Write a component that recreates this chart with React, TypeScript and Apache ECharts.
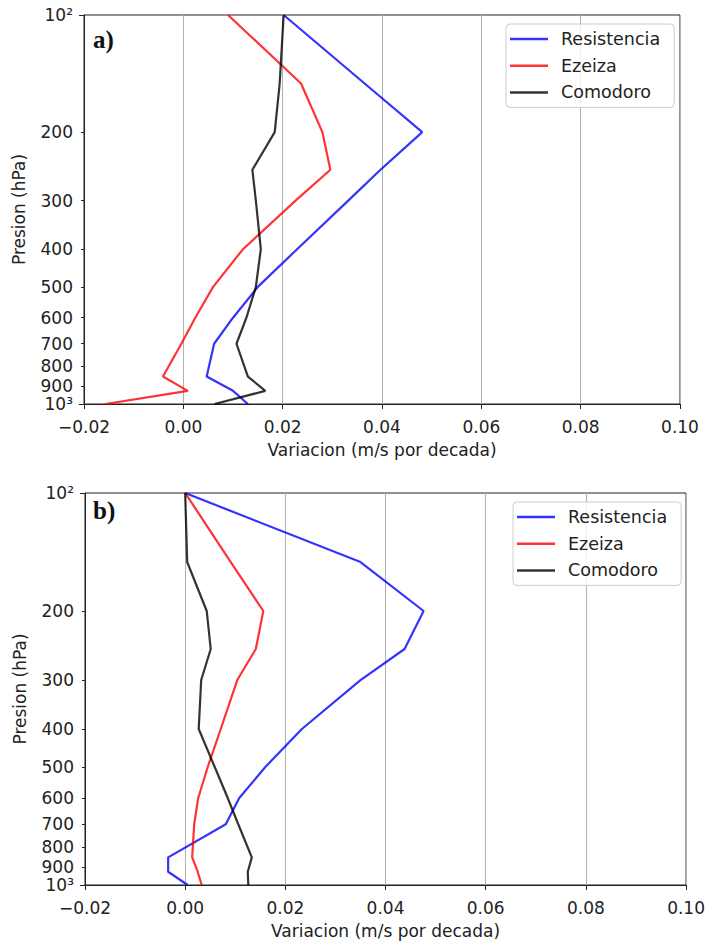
import React, { useEffect, useRef } from "react";
import * as echarts from "echarts";

// ---- Data ----
const pressureLevels = [100, 150, 200, 250, 300, 400, 500, 600, 700, 850, 925, 1000];
const stationNames = ["Resistencia", "Ezeiza", "Comodoro"];

// panel a)
const resistenciaA = [0.0202, 0.0365, 0.0481, 0.0397, 0.0332, 0.0229, 0.015, 0.01, 0.0062, 0.0047, 0.01, 0.013];
const ezeizaA = [0.009, 0.0237, 0.028, 0.0296, 0.0226, 0.012, 0.006, 0.0024, -0.0004, -0.0041, 0.0009, -0.0157];
const comodoroA = [0.0202, 0.0194, 0.0184, 0.0139, 0.0146, 0.0156, 0.0146, 0.0127, 0.0107, 0.013, 0.0165, 0.0063];

// panel b)
const resistenciaB = [0.0, 0.035, 0.0476, 0.0438, 0.035, 0.0233, 0.016, 0.0108, 0.0081, -0.0034, -0.0034, 0.0005];
const ezeizaB = [0.0, 0.0091, 0.0156, 0.0141, 0.0104, 0.0071, 0.0045, 0.0026, 0.0018, 0.0014, 0.0025, 0.0033];
const comodoroB = [0.0, 0.0004, 0.0043, 0.0051, 0.0032, 0.0027, 0.0059, 0.0085, 0.0106, 0.0133, 0.0125, 0.0126];

const pressureTickLabels = [100, 200, 300, 400, 500, 600, 700, 800, 900, 1000];
const majorPressureTicks = [100, 1000];
const minorPressureTicks = [200, 300, 400, 500, 600, 700, 800, 900];
const xMin = -0.02;
const xMax = 0.1;
const xStep = 0.02;
const panelLabels = ["a)", "b)"];
const xAxisTitle = "Variacion (m/s por decada)";
const yAxisTitle = "Presion (hPa)";

const colors = ["rgba(0,0,255,0.8)", "rgba(255,0,0,0.8)", "rgba(0,0,0,0.8)"];
const FONT = "DejaVu Sans";
const INK = "#222";

const panels = [
  { series: [resistenciaA, ezeizaA, comodoroA], grid: { left: 84, top: 15, width: 596, height: 389 }, legend: { left: 506, top: 24 }, label: { x: 93, y: 27 } },
  { series: [resistenciaB, ezeizaB, comodoroB], grid: { left: 85, top: 493, width: 605, height: 392 }, legend: { left: 513, top: 502 }, label: { x: 93, y: 498 } },
];

function fmtX(v: number) {
  const s = (Math.round(v * 100) / 100).toFixed(2);
  return s.replace("-", "\u2212");
}
function fmtP(v: number) {
  const r = Math.round(v);
  if (r === 100) return "10\u00B2";
  if (r === 1000) return "10\u00B3";
  return String(r);
}

export default function App() {
  const ref = useRef<HTMLDivElement>(null);
  useEffect(() => {
    if (!ref.current) return;
    const chart = echarts.init(ref.current, null, { renderer: "svg" });
    const grids: any[] = [];
    const xAxes: any[] = [];
    const yAxes: any[] = [];
    const series: any[] = [];
    const legends: any[] = [];
    const graphics: any[] = [];
    panels.forEach((p, i) => {
      grids.push({ ...p.grid, show: true, borderColor: INK, borderWidth: 1, backgroundColor: "transparent" });
      xAxes.push({
        type: "value",
        gridIndex: i,
        min: xMin,
        max: xMax,
        interval: xStep,
        name: xAxisTitle,
        nameLocation: "middle",
        nameGap: 37,
        nameTextStyle: { fontFamily: FONT, fontSize: 17, color: INK },
        axisLine: { show: true, onZero: false, lineStyle: { color: INK, width: 1 } },
        axisTick: { show: true, length: 5, lineStyle: { color: INK } },
        axisLabel: { formatter: fmtX, fontFamily: FONT, fontSize: 17, color: INK, margin: 14, showMinLabel: true, showMaxLabel: true },
        splitLine: { show: true, lineStyle: { color: "#b0b0b0", width: 1 } },
      });
      yAxes.push({
        type: "log",
        logBase: 10,
        gridIndex: i,
        min: 100,
        max: 1000,
        inverse: true,
        position: "left",
        name: yAxisTitle,
        nameLocation: "middle",
        nameGap: 57,
        nameRotate: 90,
        nameTextStyle: { fontFamily: FONT, fontSize: 17, color: INK },
        axisLine: { show: true, onZero: false, lineStyle: { color: INK, width: 1 } },
        axisTick: { show: true, length: 5, lineStyle: { color: INK }, customValues: majorPressureTicks },
        axisLabel: { customValues: pressureTickLabels, formatter: fmtP, fontFamily: FONT, fontSize: 17, lineHeight: 14, color: INK, margin: 11 },
        splitLine: { show: false },
        minorTick: { show: false },
      });
      yAxes.push({
        type: "log",
        logBase: 10,
        gridIndex: i,
        min: 100,
        max: 1000,
        inverse: true,
        position: "left",
        axisLine: { show: false, onZero: false },
        axisTick: { show: true, length: 3, lineStyle: { color: INK }, customValues: minorPressureTicks },
        axisLabel: { show: false },
        splitLine: { show: false },
      });
      p.series.forEach((vals, k) => {
        series.push({
          type: "line",
          name: stationNames[k],
          xAxisIndex: i,
          yAxisIndex: i * 2,
          data: vals.map((v, j) => [v, pressureLevels[j]]),
          symbol: "none",
          showSymbol: false,
          lineStyle: { color: colors[k], width: 2.2 },
          itemStyle: { color: colors[k] },
          z: 3,
        });
      });
      legends.push({
        orient: "vertical",
        left: p.legend.left,
        top: p.legend.top,
        data: stationNames.map((n) => ({ name: n, icon: "rect" })),
        itemWidth: 38,
        itemHeight: 2.5,
        itemGap: 8.7,
        padding: [6, 14, 6, 4],
        backgroundColor: "rgba(255,255,255,0.8)",
        borderColor: "#cccccc",
        borderWidth: 1,
        borderRadius: 4,
        selectedMode: false,
        itemStyle: { borderWidth: 0 },
        textStyle: { fontFamily: FONT, fontSize: 17.5, color: INK, padding: [0, 0, 0, 8] },
      });
      graphics.push({
        type: "text",
        x: p.label.x,
        y: p.label.y,
        style: { text: panelLabels[i], font: 'bold 25px "Liberation Serif"', fill: "#111" },
        z: 10,
      });
    });
    chart.setOption({
      animation: false,
      backgroundColor: "#ffffff",
      grid: grids,
      xAxis: xAxes,
      yAxis: yAxes,
      series,
      legend: legends,
      graphic: graphics,
    });
    return () => chart.dispose();
  }, []);
  return <div ref={ref} style={{ position: "absolute", left: 0, top: 0, width: 708, height: 944 }} />;
}
